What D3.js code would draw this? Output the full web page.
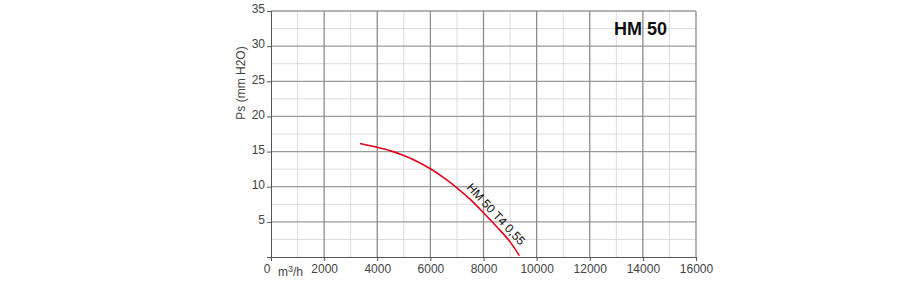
<!DOCTYPE html>
<html>
<head>
<meta charset="utf-8">
<script src="https://cdn.jsdelivr.net/npm/d3@7"></script>
<style>
body { margin: 0; background: #fff; }
text { font-family: "Liberation Sans", Arial, sans-serif; }
</style>
</head>
<body>
<script>
// curva HM 50 T4 0,55 : portata m3/h -> pressione mm H2O
var flow = [3350, 4000, 4500, 5000, 5500, 6000, 6500, 7000, 7500, 8000, 8500, 9000, 9350];
var press = [16.15, 15.6, 15.1, 14.45, 13.6, 12.55, 11.3, 9.85, 8.2, 6.3, 4.3, 2.15, 0.2];
var xTicks = [0, 2000, 4000, 6000, 8000, 10000, 12000, 14000, 16000];
var yTicks = [5, 10, 15, 20, 25, 30, 35];
var curveName = "HM 50 T4 0,55";
var title = "HM 50";

var W = 900, H = 286;
var x = d3.scaleLinear().domain([0, 16000]).range([271, 696]);
var y = d3.scaleLinear().domain([0, 35]).range([257, 11]);

var svg = d3.select("body").append("svg")
    .attr("width", W).attr("height", H);

// griglia secondaria
var g = svg.append("g");
g.selectAll(".vmin").data(d3.range(1000, 16000, 2000)).enter().append("line")
    .attr("x1", d => x(d)).attr("x2", d => x(d))
    .attr("y1", y(0)).attr("y2", y(35))
    .attr("stroke", "#dcdcdc").attr("stroke-width", 1);
g.selectAll(".hmin").data(d3.range(2.5, 35, 5)).enter().append("line")
    .attr("x1", x(0)).attr("x2", x(16000))
    .attr("y1", d => y(d)).attr("y2", d => y(d))
    .attr("stroke", "#dcdcdc").attr("stroke-width", 1);
// griglia principale
g.selectAll(".hmaj").data(yTicks).enter().append("line")
    .attr("x1", x(0)).attr("x2", x(16000))
    .attr("y1", d => y(d)).attr("y2", d => y(d))
    .attr("stroke", "#9a9a9a").attr("stroke-width", 1.3);
g.selectAll(".vmaj").data(xTicks.slice(1)).enter().append("line")
    .attr("x1", d => x(d)).attr("x2", d => x(d))
    .attr("y1", y(0)).attr("y2", y(35))
    .attr("stroke", "#8c8c8c").attr("stroke-width", 1.3);

// assi
var xAxis = svg.append("g").attr("transform", "translate(0," + y(0) + ")")
    .call(d3.axisBottom(x).tickValues(xTicks).tickSize(4).tickFormat(d => d === 0 ? "" : d));
var yAxis = svg.append("g").attr("transform", "translate(" + x(0) + ",0)")
    .call(d3.axisLeft(y).tickValues([0].concat(yTicks)).tickSize(4).tickFormat(d => d === 0 ? "" : d));
[xAxis, yAxis].forEach(function(a) {
    a.select(".domain").attr("stroke", "#555");
    a.selectAll(".tick line").attr("stroke", "#555");
    a.selectAll("text").attr("fill", "#444").style("font-size", "12px")
        .style("font-family", "Liberation Sans, Arial, sans-serif");
});
xAxis.selectAll("text").attr("dy", "0.71em").attr("y", 7);
yAxis.selectAll("text").attr("x", -6).attr("dy", "0.32em").attr("y", -2);

svg.append("text").attr("x", x(0) - 4).attr("y", 273)
    .attr("text-anchor", "middle").attr("fill", "#444").style("font-size", "12px").text("0");
var unit = svg.append("text").attr("x", 278).attr("y", 276)
    .attr("fill", "#444").style("font-size", "12px");
unit.append("tspan").text("m");
unit.append("tspan").attr("dy", -4).style("font-size", "9px").text("3");
unit.append("tspan").attr("dy", 4).text("/h");

svg.append("text")
    .attr("transform", "translate(245,83) rotate(-90)")
    .attr("text-anchor", "middle").attr("fill", "#444").style("font-size", "12px")
    .text("Ps (mm H2O)");

// curva
var pts = flow.map((f, i) => [f, press[i]]);
svg.append("path").datum(pts)
    .attr("d", d3.line().x(d => x(d[0])).y(d => y(d[1])).curve(d3.curveMonotoneX))
    .attr("fill", "none").attr("stroke", "#e2001a").attr("stroke-width", 1.6);

svg.append("text")
    .attr("transform", "translate(466,188) rotate(47)")
    .attr("fill", "#111").style("font-size", "12px").text(curveName);

svg.append("text").attr("x", 614).attr("y", 35)
    .attr("fill", "#111").style("font-size", "18px").style("font-weight", "bold").text(title);
</script>
</body>
</html>
